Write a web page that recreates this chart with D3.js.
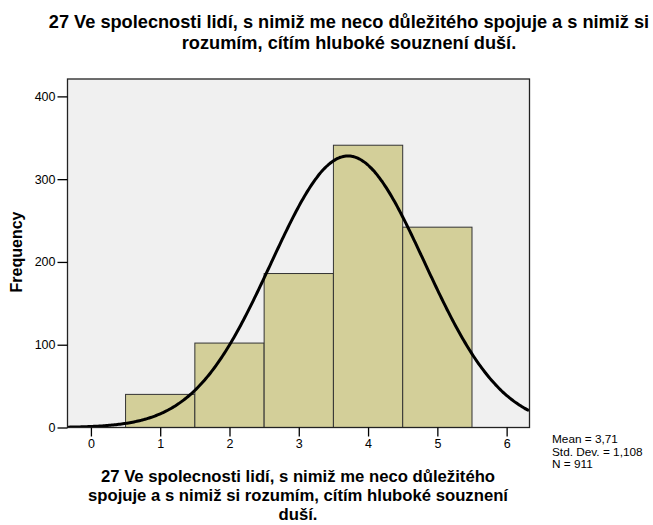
<!DOCTYPE html>
<html>
<head>
<meta charset="utf-8">
<script src="https://cdn.jsdelivr.net/npm/d3@7"></script>
<style>
  body { margin: 0; background: #fff; }
  text { font-family: "Liberation Sans", Arial, sans-serif; }
</style>
</head>
<body>
<svg width="653" height="525"></svg>
<script>
// histogram bins (value 1..5) and their counts
var binCenters = [1, 2, 3, 4, 5]
var counts = [40, 102, 186, 341, 242]
var xTicks = [0, 1, 2, 3, 4, 5, 6]
var yTicks = [0, 100, 200, 300, 400]
var mean = 3.71
var sd = 1.108
var n = 911
var titleLines = ["27 Ve spolecnosti lidí, s nimiž me neco důležitého spojuje a s nimiž si", "rozumím, cítím hluboké souznení duší."]
var xLabelLines = ["27 Ve spolecnosti lidí, s nimiž me neco důležitého", "spojuje a s nimiž si rozumím, cítím hluboké souznení", "duší."]
var statLines = ["Mean = 3,71", "Std. Dev. = 1,108", "N = 911"]

var svg = d3.select("svg")
var plot = {left: 67.5, right: 529.5, top: 79, bottom: 427.5}

var x = d3.scaleLinear().domain([-0.338, 6.33]).range([plot.left, plot.right])
var y = d3.scaleLinear().domain([0, 421]).range([plot.bottom, plot.top])

// plot background
svg.append("rect")
  .attr("x", plot.left).attr("y", plot.top)
  .attr("width", plot.right - plot.left).attr("height", plot.bottom - plot.top)
  .style("fill", "#f0f0f0")

svg.append("clipPath").attr("id", "clip")
  .append("rect")
  .attr("x", plot.left).attr("y", plot.top)
  .attr("width", plot.right - plot.left).attr("height", plot.bottom - plot.top)

// bars
svg.selectAll(".bar")
  .data(binCenters)
  .enter().append("rect")
  .attr("class", "bar")
  .attr("x", (d) => x(d - 0.5))
  .attr("y", (d, i) => y(counts[i]))
  .attr("width", (d) => x(d + 0.5) - x(d - 0.5))
  .attr("height", (d, i) => y(0) - y(counts[i]))
  .style("fill", "#d3cf99")
  .style("stroke", "#333")
  .style("stroke-width", 1)

// normal curve scaled to counts (bin width 1)
var xs = d3.range(x.domain()[0], x.domain()[1] + 0.01, 0.02)
var normal = (v) => n / (sd * Math.sqrt(2 * Math.PI)) * Math.exp(-0.5 * Math.pow((v - mean) / sd, 2))
var line = d3.line().x((d) => x(d)).y((d) => y(normal(d))).curve(d3.curveBasis)

svg.append("path")
  .datum(xs)
  .attr("clip-path", "url(#clip)")
  .attr("d", line)
  .style("fill", "none")
  .style("stroke", "#000")
  .style("stroke-width", 3)

// frame
svg.append("rect")
  .attr("x", plot.left).attr("y", plot.top)
  .attr("width", plot.right - plot.left).attr("height", plot.bottom - plot.top)
  .style("fill", "none")
  .style("stroke", "#222")
  .style("stroke-width", 1.3)

// axes
var yAxis = svg.append("g")
  .attr("transform", `translate(${plot.left},0)`)
  .call(d3.axisLeft(y).tickValues(yTicks).tickSize(10).tickSizeOuter(0).tickPadding(2))
var xAxis = svg.append("g")
  .attr("transform", `translate(0,${plot.bottom})`)
  .call(d3.axisBottom(x).tickValues(xTicks).tickFormat(d3.format("d")).tickSize(9).tickSizeOuter(0).tickPadding(3))

;[xAxis, yAxis].forEach((g) => {
  g.select(".domain").remove()
  g.selectAll("line").style("stroke", "#000").style("stroke-width", 1.3)
  g.selectAll("text").style("font-size", "12.5px").style("fill", "#000")
    .style("font-family", "'Liberation Sans', Arial, sans-serif")
})

// title
svg.append("text")
  .attr("x", 349).attr("y", 27.5)
  .style("text-anchor", "middle").style("font-size", "18.2px").style("font-weight", "bold")
  .selectAll("tspan").data(titleLines).enter().append("tspan")
  .attr("x", 349).attr("dy", (d, i) => i ? 21 : 0)
  .text((d) => d)

// x label
svg.append("text")
  .attr("x", 298).attr("y", 482)
  .style("text-anchor", "middle").style("font-size", "16.7px").style("font-weight", "bold")
  .selectAll("tspan").data(xLabelLines).enter().append("tspan")
  .attr("x", 298).attr("dy", (d, i) => i ? 19 : 0)
  .text((d) => d)

// y label
svg.append("text")
  .attr("transform", "translate(22,252) rotate(-90)")
  .style("text-anchor", "middle").style("font-size", "16px").style("font-weight", "bold")
  .text("Frequency")

// stats
svg.append("text")
  .attr("x", 552).attr("y", 443)
  .style("font-size", "11.8px")
  .selectAll("tspan").data(statLines).enter().append("tspan")
  .attr("x", 552).attr("dy", (d, i) => i ? 12.5 : 0)
  .text((d) => d)
</script>
</body>
</html>
